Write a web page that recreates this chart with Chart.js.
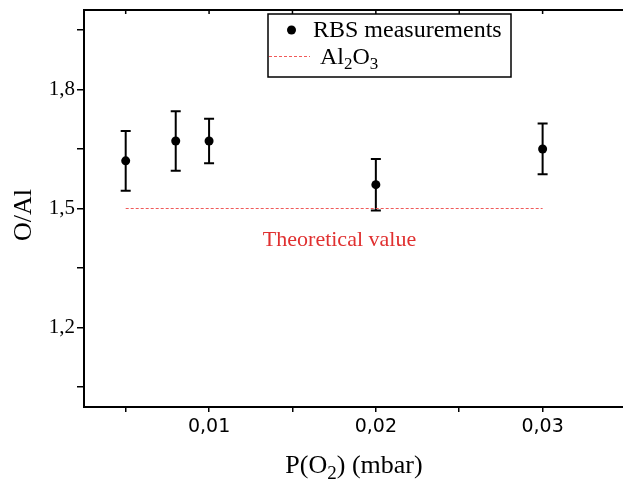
<!DOCTYPE html>
<html><head><meta charset="utf-8">
<style>html,body{margin:0;padding:0;overflow:hidden;background:#fff;width:623px;height:484px}
canvas{display:block}</style>
<script src="https://cdn.jsdelivr.net/npm/chart.js@4/dist/chart.umd.min.js"></script>
</head><body>
<canvas id="c" width="640" height="484" style="width:640px;height:484px"></canvas>
<script>
const pressure = [0.005, 0.008, 0.01, 0.02, 0.03];
const ratioOAl = [1.62, 1.67, 1.67, 1.56, 1.65];
const ratioErr = [0.075, 0.075, 0.056, 0.065, 0.064];
const theoreticalX = [0.005, 0.03];
const theoreticalY = [1.5, 1.5];
const xTicks = [0.005, 0.01, 0.015, 0.02, 0.025, 0.03];
const xLabelTicks = [0.01, 0.02, 0.03];
const yTicks = [1.05, 1.2, 1.35, 1.5, 1.65, 1.8, 1.95];
const yLabelTicks = [1.2, 1.5, 1.8];

const SERIF = '"Liberation Serif", "Times New Roman", serif';
const SANS = '"DejaVu Sans", Verdana, sans-serif';
const near = (arr, v) => arr.some(t => Math.abs(t - v) < 1e-9);

function drawSubText(ctx, parts, x, y, size, align) {
  const sub = Math.round(size * 0.72);
  let w = 0;
  parts.forEach(p => { ctx.font = (p[1] ? sub : size) + 'px ' + SERIF; w += ctx.measureText(p[0]).width; });
  let cx = align === 'center' ? x - w / 2 : x;
  ctx.textAlign = 'left'; ctx.textBaseline = 'alphabetic';
  parts.forEach(p => {
    ctx.font = (p[1] ? sub : size) + 'px ' + SERIF;
    ctx.fillText(p[0], cx, p[1] ? y + size * 0.22 : y);
    cx += ctx.measureText(p[0]).width;
  });
}

const decor = {
  id: 'decor',
  beforeDatasetsDraw(chart) {
    const ctx = chart.ctx, xs = chart.scales.x, ys = chart.scales.y;
    ctx.save();
    ctx.strokeStyle = '#000'; ctx.lineWidth = 2;
    pressure.forEach((p, i) => {
      const px = xs.getPixelForValue(p);
      const top = ys.getPixelForValue(ratioOAl[i] + ratioErr[i]);
      const bot = ys.getPixelForValue(ratioOAl[i] - ratioErr[i]);
      ctx.beginPath();
      ctx.moveTo(px, top); ctx.lineTo(px, bot);
      ctx.moveTo(px - 5, top); ctx.lineTo(px + 5, top);
      ctx.moveTo(px - 5, bot); ctx.lineTo(px + 5, bot);
      ctx.stroke();
    });
    ctx.restore();
  },
  afterDraw(chart) {
    const ctx = chart.ctx, a = chart.chartArea, xs = chart.scales.x;
    ctx.save();
    ctx.strokeStyle = '#000'; ctx.lineWidth = 2;
    ctx.beginPath(); ctx.moveTo(a.left, a.top); ctx.lineTo(a.right, a.top);
    ctx.moveTo(a.right, a.top); ctx.lineTo(a.right, a.bottom); ctx.stroke();
    ctx.lineWidth = 1.5;
    ctx.beginPath();
    xTicks.forEach(v => { const px = xs.getPixelForValue(v); ctx.moveTo(px, a.top); ctx.lineTo(px, a.top + 4); });
    ctx.stroke();

    // legend box
    ctx.fillStyle = '#fff';
    ctx.fillRect(268, 14, 243, 63);
    ctx.lineWidth = 1.5; ctx.strokeStyle = '#000';
    ctx.strokeRect(268, 14, 243, 63);
    ctx.fillStyle = '#000';
    ctx.beginPath(); ctx.arc(291.5, 30, 4.5, 0, Math.PI * 2); ctx.fill();
    ctx.font = '24px ' + SERIF; ctx.textAlign = 'left'; ctx.textBaseline = 'alphabetic';
    ctx.fillText(chart.data.datasets[0].label, 313, 37);
    ctx.strokeStyle = '#f05a5a'; ctx.lineWidth = 1; ctx.setLineDash([3, 2]);
    ctx.beginPath(); ctx.moveTo(269, 56.5); ctx.lineTo(310, 56.5); ctx.stroke();
    ctx.setLineDash([]);
    ctx.fillStyle = '#000';
    drawSubText(ctx, [['Al', false], ['2', true], ['O', false], ['3', true]], 320, 64, 24, 'left');

    // annotation
    ctx.fillStyle = '#e03030'; ctx.font = '22px ' + SERIF; ctx.textAlign = 'center';
    ctx.fillText('Theoretical value', 339.5, 246);

    // axis titles
    ctx.fillStyle = '#000';
    drawSubText(ctx, [['P(O', false], ['2', true], [') (mbar)', false]], 354, 473, 26, 'center');
    ctx.translate(31, 215);
    ctx.rotate(-Math.PI / 2);
    ctx.font = '26px ' + SERIF; ctx.textAlign = 'center';
    ctx.fillText('O/Al', 0, 0);
    ctx.restore();
  }
};

new Chart(document.getElementById('c'), {
  type: 'scatter',
  data: {
    datasets: [
      {
        label: 'RBS measurements',
        data: pressure.map((x, i) => ({ x, y: ratioOAl[i] })),
        pointRadius: 4.5, pointHoverRadius: 4.5,
        backgroundColor: '#000', borderWidth: 0, showLine: false
      },
      {
        label: 'Al2O3',
        data: theoreticalX.map((x, i) => ({ x, y: theoreticalY[i] })),
        showLine: true, pointRadius: 0, borderColor: '#f05a5a',
        borderWidth: 1, borderDash: [3, 2], fill: false
      }
    ]
  },
  options: {
    responsive: false, animation: false, devicePixelRatio: 1,
    layout: { padding: { left: 0, top: 10, right: 14, bottom: 0 } },
    plugins: { legend: { display: false }, tooltip: { enabled: false } },
    scales: {
      x: {
        type: 'linear', min: 0.0025, max: 0.035,
        afterBuildTicks: s => { s.ticks = xTicks.map(v => ({ value: v })); },
        afterFit: s => { s.height = 77; s.paddingLeft = 0; s.paddingRight = 0; },
        ticks: {
          autoSkip: false, maxRotation: 0, padding: 4, color: '#000',
          font: { family: SANS, size: 19 },
          callback: v => near(xLabelTicks, v) ? v.toFixed(2).replace('.', ',') : ''
        },
        grid: { drawOnChartArea: false, drawTicks: true, tickLength: 5, color: '#000', lineWidth: 1.5 },
        border: { display: true, color: '#000', width: 2 }
      },
      y: {
        type: 'linear', min: 1.0, max: 2.0,
        afterBuildTicks: s => { s.ticks = yTicks.map(v => ({ value: v })); },
        afterFit: s => { s.width = 84; s.paddingTop = 0; s.paddingBottom = 0; },
        ticks: {
          autoSkip: false, padding: 2, color: '#000',
          font: { family: SERIF, size: 21 },
          callback: v => near(yLabelTicks, v) ? v.toFixed(1).replace('.', ',') : ''
        },
        grid: { drawOnChartArea: false, drawTicks: true, tickLength: 7, color: '#000', lineWidth: 1.5 },
        border: { display: true, color: '#000', width: 2 }
      }
    }
  },
  plugins: [decor]
});
</script>
</body></html>
